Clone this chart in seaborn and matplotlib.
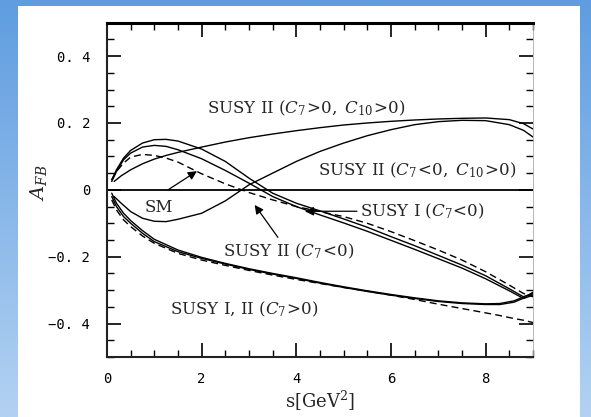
# -*- coding: utf-8 -*-
# forward-backward asymmetry A_FB vs s, SM and SUSY curves

import numpy as np
import pandas as pd
import matplotlib
matplotlib.use("Agg")
import matplotlib.pyplot as plt
from matplotlib.patches import Rectangle
from matplotlib.ticker import MultipleLocator, FixedLocator, FixedFormatter
import seaborn as sns

# ------------------
# data
# ------------------
s_peak = [0.1, 0.2, 0.35, 0.5, 0.75, 1.0, 1.25, 1.5, 2.0, 2.5, 3.0, 3.5,
          4.0, 4.5, 5.0, 5.5, 6.0, 6.5, 7.0, 7.5, 8.0, 8.5, 8.8, 9.0]
susy1_c7neg = [0.03, 0.06, 0.095, 0.118, 0.14, 0.15, 0.151, 0.146, 0.122, 0.085, 0.035, -0.01,
               -0.04, -0.063, -0.087, -0.112, -0.14, -0.167, -0.196, -0.225, -0.257, -0.296, -0.32, -0.31]
susy2_c7neg = [0.025, 0.055, 0.09, 0.11, 0.128, 0.133, 0.13, 0.12, 0.093, 0.058, 0.02, -0.02,
               -0.05, -0.075, -0.099, -0.124, -0.151, -0.178, -0.206, -0.234, -0.266, -0.302, -0.325, -0.315]
sm = [0.03, 0.055, 0.08, 0.098, 0.106, 0.103, 0.095, 0.083, 0.048, 0.018, -0.008, -0.03,
      -0.05, -0.065, -0.08, -0.1, -0.125, -0.152, -0.18, -0.21, -0.245, -0.285, -0.31, -0.32]

s_rise = [0.15, 0.3, 0.5, 0.75, 1.0, 1.25, 1.5, 2.0, 2.5, 3.0, 3.5, 4.0,
          4.5, 5.0, 5.5, 6.0, 6.5, 7.0, 7.5, 8.0, 8.5, 8.8, 9.0]
susy2_pp = [0.025, 0.042, 0.06, 0.078, 0.092, 0.103, 0.112, 0.128, 0.143, 0.156, 0.167, 0.177,
            0.186, 0.194, 0.2, 0.205, 0.209, 0.212, 0.214, 0.215, 0.21, 0.198, 0.182]
susy2_np = [-0.02, -0.04, -0.065, -0.085, -0.094, -0.095, -0.088, -0.07, -0.033, 0.015, 0.05, 0.085,
            0.115, 0.14, 0.162, 0.18, 0.195, 0.204, 0.208, 0.207, 0.195, 0.178, 0.158]

s_low = [0.1, 0.2, 0.35, 0.5, 0.75, 1.0, 1.5, 2.0, 2.5, 3.0, 3.5, 4.0,
         4.5, 5.0, 5.5, 6.0, 6.5, 7.0, 7.5, 8.0, 8.3, 8.6, 8.8, 9.0]
susy12_c7pos_a = [-0.02, -0.05, -0.08, -0.1, -0.13, -0.155, -0.185, -0.205, -0.222, -0.238, -0.252, -0.265,
                  -0.279, -0.292, -0.304, -0.315, -0.325, -0.334, -0.34, -0.343, -0.343, -0.336, -0.324, -0.306]
susy12_c7pos_b = [-0.01, -0.04, -0.07, -0.092, -0.122, -0.148, -0.18, -0.202, -0.22, -0.236, -0.25, -0.263,
                  -0.277, -0.29, -0.302, -0.313, -0.323, -0.332, -0.338, -0.341, -0.34, -0.332, -0.32, -0.31]
susy12_c7pos_dash = [-0.03, -0.06, -0.09, -0.11, -0.138, -0.16, -0.19, -0.21, -0.226, -0.241, -0.255, -0.268,
                     -0.28, -0.292, -0.303, -0.315, -0.328, -0.342, -0.355, -0.368, -0.376, -0.385, -0.39, -0.397]

x_ticks = [0, 2, 4, 6, 8]
y_ticks = [-0.4, -0.2, 0.0, 0.2, 0.4]
y_tick_labels = ["\u22120. 4", "\u22120. 2", "0", "0. 2", "0. 4"]


def main():
    sns.set_style("ticks")
    plt.rcParams["font.family"] = ["DejaVu Serif", "DejaVu Sans"]
    plt.rcParams["mathtext.fontset"] = "dejavuserif"

    W, H = 591, 417
    fig = plt.figure(figsize=(W / 100, H / 100), dpi=100)

    # ------------------
    # blue gradient background + white panel
    # ------------------
    bg = fig.add_axes([0, 0, 1, 1], zorder=-5)
    grad = np.linspace(0, 1, 256).reshape(-1, 1)
    cmap = matplotlib.colors.LinearSegmentedColormap.from_list("bg", ["#5f9de0", "#b3d2f2"])
    bg.imshow(grad, aspect="auto", cmap=cmap, extent=[0, 1, 0, 1])
    bg.add_patch(Rectangle((18 / W, 0), (580 - 18) / W, (H - 5.6) / H,
                           transform=bg.transAxes, facecolor="white", edgecolor="none"))
    bg.set_xlim(0, 1)
    bg.set_ylim(0, 1)
    bg.axis("off")

    # ------------------
    # main axes
    # ------------------
    ax = fig.add_axes([107 / W, 1 - 357 / H, 426 / W, 334.3 / H])
    ax.set_facecolor("white")

    solid = dict(ax=ax, color="black", lw=1.0, estimator=None, sort=False, legend=False)
    for s, a in [(s_peak, susy1_c7neg), (s_peak, susy2_c7neg),
                 (s_rise, susy2_pp), (s_rise, susy2_np),
                 (s_low, susy12_c7pos_a), (s_low, susy12_c7pos_b)]:
        df = pd.DataFrame({"s": s, "afb": a})
        sns.lineplot(data=df, x="s", y="afb", **solid)
    for s, a in [(s_peak, sm), (s_low, susy12_c7pos_dash)]:
        df = pd.DataFrame({"s": s, "afb": a})
        line = sns.lineplot(data=df, x="s", y="afb", **solid).lines[-1]
        line.set_dashes([5, 3])

    ax.axhline(0, color="black", lw=1.3)

    # labels & arrows
    fs = 12
    ax.text(2.11, 0.245, r"SUSY II ($C_7\!>\!0,\ C_{10}\!>\!0$)", fontsize=fs, va="center")
    ax.text(4.45, 0.057, r"SUSY II ($C_7\!<\!0,\ C_{10}\!>\!0$)", fontsize=fs, va="center")
    ax.text(5.34, -0.064, r"SUSY I ($C_7\!<\!0$)", fontsize=fs, va="center")
    ax.text(2.45, -0.184, r"SUSY II ($C_7\!<\!0$)", fontsize=fs, va="center")
    ax.text(1.33, -0.358, r"SUSY I, II ($C_7\!>\!0$)", fontsize=fs, va="center")
    ax.text(0.80, -0.052, "SM", fontsize=fs, va="center")

    arrow = dict(arrowstyle="-|>", color="black", lw=0.9, mutation_scale=13, shrinkA=0, shrinkB=0)
    ax.annotate("", xy=(1.9, 0.056), xytext=(1.29, 0.0), arrowprops=arrow)
    ax.annotate("", xy=(4.18, -0.064), xytext=(5.28, -0.064), arrowprops=arrow)
    ax.annotate("", xy=(3.12, -0.045), xytext=(3.61, -0.142), arrowprops=arrow)

    # ------------------
    # axes styling
    # ------------------
    ax.set_xlim(0, 9)
    ax.set_ylim(-0.5, 0.5)
    ax.xaxis.set_major_locator(FixedLocator(x_ticks))
    ax.xaxis.set_minor_locator(MultipleLocator(0.5))
    ax.yaxis.set_major_locator(FixedLocator(y_ticks))
    ax.yaxis.set_major_formatter(FixedFormatter(y_tick_labels))
    ax.yaxis.set_minor_locator(MultipleLocator(0.05))
    ax.tick_params(which="both", direction="in", top=True, right=True, colors="black")
    ax.tick_params(which="major", length=10, width=1.2)
    ax.tick_params(which="minor", length=5, width=1.0)
    ax.tick_params(axis="y", pad=12)
    ax.tick_params(axis="x", pad=11)
    for lab in ax.get_xticklabels() + ax.get_yticklabels():
        lab.set_fontfamily("DejaVu Sans Mono")
        lab.set_fontsize(10)

    for side, lw, c in [("top", 2.2, "black"), ("left", 1.5, "#222222"),
                        ("bottom", 1.5, "#222222"), ("right", 0.6, "#aaaaaa")]:
        ax.spines[side].set_linewidth(lw)
        ax.spines[side].set_color(c)

    ax.set_xlabel(r"s[GeV$^2$]", fontsize=13)
    ax.xaxis.set_label_coords(0.5, -0.095)
    ax.set_ylabel(r"$A_{FB}$", fontsize=14)
    ax.yaxis.set_label_coords(-0.135, 0.52)

    fig.savefig("out.png", dpi=100)


if __name__ == "__main__":
    main()
